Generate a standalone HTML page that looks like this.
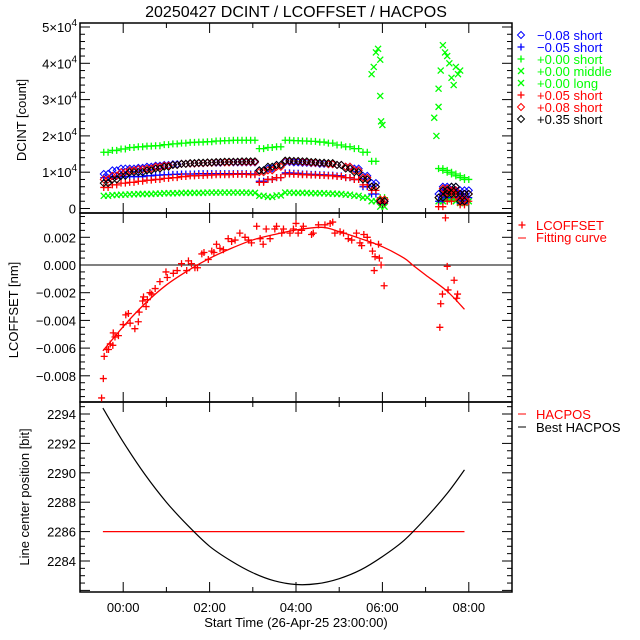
<!DOCTYPE html>
<html><head><meta charset="utf-8"><style>
html,body{margin:0;padding:0;background:#fff;}
svg{display:block;font-family:"Liberation Sans","DejaVu Sans",sans-serif;}
</style></head><body>
<svg id="chart" width="640" height="640" viewBox="0 0 640 640" xmlns="http://www.w3.org/2000/svg">
<rect width="640" height="640" fill="#fff"/>
<text x="296" y="17" font-size="16" text-anchor="middle">20250427 DCINT / LCOFFSET / HACPOS</text>
<g id="layer"></g>
</svg>
<script>
// ---- shared time grid for panel 1 (hours from 00:00) ----
const times1 = [-0.45,-0.25,-0.05,0.15,0.35,0.55,0.75,0.95,1.15,1.35,1.55,1.75,1.95,2.15,2.35,2.55,2.75,2.95,3.15,3.35,3.55,3.75,3.95,4.15,4.35,4.55,4.75,4.95,5.15,5.35,5.55,5.75,5.95,7.3,7.4,7.5,7.6,7.7,7.8,7.9];
// values in thousands of counts
const blueDiamond = [9.5,10.5,11,11,11.2,11.5,11.8,12,12.2,12.3,12.4,12.5,12.6,12.6,12.7,12.7,12.7,12.7,10.5,11,12,12.8,12.7,12.6,12.5,12.3,12.2,12,11.5,11,9,7,2,4,6,5,6,5,3,5];
const bluePlus = [8.5,8.8,8.8,8.8,8.8,9,9.2,9.3,9.4,9.5,9.5,9.6,9.6,9.6,9.6,9.6,9.6,9.5,7.5,8,8.5,9.8,9.7,9.5,9.4,9.3,9.2,9,8.5,8,6,4,1.5,2,5,3,5,4,1.5,3];
const greenShort = [15.5,16,16.4,16.8,17,17.2,17.3,17.6,17.8,18,18.2,18.3,18.4,18.6,18.7,18.8,18.8,18.8,16.5,16.8,17,18.8,18.7,18.6,18.5,18.3,18,17.5,17,16.5,15.5,13,3,11,10.5,10,9.5,9,8.5,8];
const greenLong = [3.5,3.7,3.8,3.9,4,4,4.1,4.2,4.2,4.3,4.3,4.3,4.4,4.4,4.4,4.4,4.4,4.3,3.5,3.2,3.6,4.4,4.3,4.3,4.2,4.2,4.1,4,3.8,3.5,3,2,0.5,2,3,2.5,3,2,1.5,2];
const redPlus = [5.8,6.5,7,7.2,7.5,7.8,8,8.3,8.5,8.8,9,9.1,9.2,9.3,9.3,9.4,9.4,9.3,7.2,8,8.5,9.5,9.4,9.3,9.2,9.1,9,8.8,8.5,8,6.5,5,1.5,0.5,4,2,4.5,3,1,2];
const redDiamond = [8,9,10,10.5,10.8,11,11.5,11.8,12,12.3,12.4,12.5,12.6,12.7,12.7,12.8,12.8,12.8,10,10.5,11.5,13,13,12.8,12.6,12.5,12.2,12,11.5,10.5,8.5,6,2.5,3,5.5,4.5,5,4,2.5,4];
const blackDiamond = [7,8,9,10,10,10.5,11,11.5,12,12.3,12.5,12.6,12.7,12.8,12.9,12.9,13,13,10.5,11.5,12,13.2,13.1,13,12.8,12.6,12.5,12,11,10,8,6,2,3,5,4,6,4,2,4];
const middleTimes = [5.75,5.8,5.85,5.9,5.95,5.95,5.97,6.0,7.2,7.25,7.3,7.3,7.35,7.4,7.45,7.5,7.55,7.6,7.65,7.7,7.75,7.8];
const middleValues = [37,39,43,44,41,31,24,23,25,20,28,33,38,45,43,42,40,36,34,39,37,38];
// ---- panel 2 ----
const lcTimes = [-0.50,-0.46,-0.44,-0.38,-0.34,-0.30,-0.24,-0.23,-0.19,-0.11,0.00,0.06,0.12,0.16,0.27,0.35,0.37,0.45,0.47,0.53,0.56,0.62,0.66,0.74,0.85,0.99,1.02,1.16,1.25,1.35,1.47,1.51,1.58,1.66,1.72,1.82,1.87,1.97,2.05,2.10,2.16,2.24,2.32,2.43,2.51,2.59,2.70,2.82,2.90,2.97,3.09,3.17,3.24,3.31,3.40,3.51,3.55,3.67,3.71,3.86,3.94,4.00,4.05,4.13,4.17,4.36,4.40,4.52,4.67,4.79,4.85,4.90,5.02,5.10,5.21,5.29,5.40,5.48,5.52,5.57,5.65,5.73,5.77,5.83,5.81,5.91,5.93,5.97,6.04,7.33,7.35,7.39,7.46,7.50,7.52,7.66,7.72,7.74];
const lcValues = [-0.0096,-0.0082,-0.0066,-0.0061,-0.0061,-0.0057,-0.0058,-0.0049,-0.0052,-0.0051,-0.0043,-0.0036,-0.0035,-0.0042,-0.0046,-0.0041,-0.0034,-0.0026,-0.0023,-0.0030,-0.0025,-0.0020,-0.0021,-0.0017,-0.0012,-0.0005,-0.0009,-0.0006,-0.0004,0.0001,-0.0004,0.0003,0.0001,-0.0002,-0.0002,0.0008,0.0009,0.0004,0.0010,0.0009,0.0015,0.0012,0.0011,0.0019,0.0017,0.0018,0.0023,0.0020,0.0018,0.0016,0.0028,0.0019,0.0015,0.0026,0.0019,0.0026,0.0028,0.0023,0.0026,0.0023,0.0026,0.0030,0.0023,0.0025,0.0028,0.0022,0.0023,0.0029,0.0029,0.0030,0.0031,0.0023,0.0024,0.0023,0.0019,0.0018,0.0023,0.0016,0.0014,0.0022,0.0020,0.0016,0.0010,0.0006,-0.0004,0.0015,0.0005,0.0,-0.0015,-0.0045,-0.0028,-0.0021,0.0034,-0.0001,-0.0018,-0.0011,-0.0024,-0.0021];
const fitTimes = [-0.47,0,0.5,1,1.5,2,2.5,3,3.5,4,4.6,5,5.5,6,6.5,6.7,7,7.5,7.9];
const fitValues = [-0.0062,-0.00445,-0.0028,-0.00144,-0.0004,0.00048,0.0012,0.00181,0.0022,0.00253,0.00272,0.00241,0.0019,0.00132,0.0005,0.0,-0.00072,-0.0019,-0.0032];
// ---- panel 3 ----
const hacTimes = [-0.47,0,0.5,1,1.5,2,2.5,3,3.5,4,4.5,5,5.5,6,6.5,7,7.5,7.9];
const bestHacpos = [2294.4,2292.1,2289.9,2288.0,2286.4,2285.0,2284.0,2283.2,2282.65,2282.4,2282.46,2282.8,2283.4,2284.3,2285.4,2286.9,2288.6,2290.2];
const hacposTimes = [-0.47,7.9];
const hacposValues = [2286,2286];
const xTickLabels = ["00:00","02:00","04:00","06:00","08:00"];
const p1TickLabels = ["0","1","2","3","4","5"];
const p2TickLabels = ["−0.008","−0.006","−0.004","−0.002","0.000","0.002"];
const p3TickLabels = ["2284","2286","2288","2290","2292","2294"];

const NS="http://www.w3.org/2000/svg";
const layer=document.getElementById('layer');
const L=80,R=512;
const X=t=>L+(t+1)*43.2;
const Y1=v=>208.5-v*3.63;
const Y2=v=>265-v*13850;
const Y3=v=>414+(2294-v)*14.7;
const panels=[{top:23,bot:213},{top:213,bot:402},{top:402,bot:592}];
function mk(tag,attrs,parent){const e=document.createElementNS(NS,tag);for(const k in attrs)e.setAttribute(k,attrs[k]);(parent||layer).appendChild(e);return e;}
function txt(s,x,y,attrs,parent){const e=mk('text',Object.assign({x:x,y:y,'font-size':13},attrs||{}),parent);e.textContent=s;return e;}
// smooth path through points (Catmull-Rom)
function smoothPath(pts){
  let d=`M${pts[0][0]},${pts[0][1]}`;
  for(let i=0;i<pts.length-1;i++){
    const p0=pts[Math.max(0,i-1)],p1=pts[i],p2=pts[i+1],p3=pts[Math.min(pts.length-1,i+2)];
    const c1=[p1[0]+(p2[0]-p0[0])/6,p1[1]+(p2[1]-p0[1])/6];
    const c2=[p2[0]-(p3[0]-p1[0])/6,p2[1]-(p3[1]-p1[1])/6];
    d+=` C${c1[0]},${c1[1]} ${c2[0]},${c2[1]} ${p2[0]},${p2[1]}`;
  }
  return d;
}

panels.forEach((p,i)=>{
  const g=mk('g',{});
  
  
  mk('rect',{x:L,y:p.top,width:R-L,height:p.bot-p.top,fill:'none',stroke:'#000','stroke-width':1.5},g);
  for(let h=0;h<=8;h++){
    const x=X(h),len=(h%2===0)?10:5;
    mk('line',{x1:x,x2:x,y1:p.bot,y2:p.bot-len,stroke:'#000'},g);
    mk('line',{x1:x,x2:x,y1:p.top,y2:p.top+len,stroke:'#000'},g);
  }
});
function yTicks(yf,lo,hi,minor,major,g){
  for(let v=lo;v<=hi+1e-9;v+=minor){
    const y=yf(v);const isMaj=Math.abs(Math.round(v/major)*major-v)<minor*0.01;const len=isMaj?10:5;
    mk('line',{x1:L,x2:L+len,y1:y,y2:y,stroke:'#000'},g);
    mk('line',{x1:R,x2:R-len,y1:y,y2:y,stroke:'#000'},g);
  }
}
const ax1=mk('g',{});
yTicks(Y1,0,50,2,10,ax1);
p1TickLabels.forEach((s,i)=>{
  const y=Y1(i*10);
  if(s==="0"){txt("0",76,y+5,{'text-anchor':'end'},ax1);}
  else{const t=txt("",77,y+5,{'text-anchor':'end'},ax1);t.innerHTML=s+"×10<tspan dy='-6' font-size='10'>4</tspan>";}
});
txt("DCINT [count]",26,120,{'text-anchor':'middle',transform:'rotate(-90 26 120)'},ax1);
const ax2=mk('g',{});
yTicks(Y2,-0.0095,0.0035,0.0005,0.002,ax2);
p2TickLabels.forEach((s,i)=>{txt(s,76,Y2(-0.008+i*0.002)+5,{'text-anchor':'end'},ax2);});
txt("LCOFFSET [nm]",18,310,{'text-anchor':'middle',transform:'rotate(-90 18 310)'},ax2);
mk('line',{x1:L,x2:R,y1:Y2(0),y2:Y2(0),stroke:'#000'},ax2);
const ax3=mk('g',{});
yTicks(Y3,2282,2294.5,0.5,2,ax3);
p3TickLabels.forEach((s,i)=>{txt(s,76,Y3(2284+i*2)+5,{'text-anchor':'end'},ax3);});
txt("Line center position [bit]",29,497,{'text-anchor':'middle',transform:'rotate(-90 29 497)'},ax3);
const axx=mk('g',{});
xTickLabels.forEach((s,i)=>{txt(s,X(i*2),612,{'text-anchor':'middle'},axx);});
txt("Start Time (26-Apr-25 23:00:00)",296,627,{'text-anchor':'middle'},axx);

function marker(kind,x,y,c,g){
  const s=3.5;
  if(kind==='d')mk('polygon',{points:`${x},${y-s} ${x+s},${y} ${x},${y+s} ${x-s},${y}`,fill:'none',stroke:c},g);
  else if(kind==='p'){mk('path',{d:`M${x-s} ${y}H${x+s}M${x} ${y-s}V${y+s}`,stroke:c,'stroke-width':1.3,fill:'none'},g);}
  else mk('path',{d:`M${x-3} ${y-3}L${x+3} ${y+3}M${x-3} ${y+3}L${x+3} ${y-3}`,stroke:c,'stroke-width':1.3,fill:'none'},g);
}
const series1=[
 ['green-long-series',greenLong,'x','#00ff00'],
 ['green-short-series',greenShort,'p','#00ff00'],
 ['blue-plus-series',bluePlus,'p','#0000ff'],
 ['red-plus-series',redPlus,'p','#ff0000'],
 ['blue-diamond-series',blueDiamond,'d','#0000ff'],
 ['red-diamond-series',redDiamond,'d','#ff0000'],
 ['black-diamond-series',blackDiamond,'d','#000000'],
];
series1.forEach(([name,vals,kind,c])=>{
  const g=mk('g',{});
  
  
  vals.forEach((v,i)=>{const t=times1[i];marker(kind,X(t),Y1(v),c,g);marker(kind,X(t+0.1),Y1(v),c,g);});
});
const gm=mk('g',{});


middleValues.forEach((v,i)=>marker('x',X(middleTimes[i]),Y1(v),'#00ff00',gm));

const leg1=[['d','#0000ff','−0.08 short'],['p','#0000ff','−0.05 short'],['p','#00ff00','+0.00 short'],['x','#00ff00','+0.00 middle'],['x','#00ff00','+0.00 long'],['p','#ff0000','+0.05 short'],['d','#ff0000','+0.08 short'],['d','#000000','+0.35 short']];
leg1.forEach(([k,c,s],i)=>{
  const g=mk('g',{});
  
  
  const y=35+i*12;
  marker(k,521,y,c,g);
  txt(s,537,y+5,{fill:c},g);
});

const gfit=mk('g',{});


mk('path',{d:smoothPath(fitTimes.map((t,i)=>[X(t),Y2(fitValues[i])])),fill:'none',stroke:'#ff0000','stroke-width':1.3},gfit);
const glc=mk('g',{});


lcValues.forEach((v,i)=>marker('p',X(lcTimes[i]),Y2(v),'#ff0000',glc));
const leg2=mk('g',{});


marker('p',522,225,'#ff0000',leg2);txt("LCOFFSET",536,230,{fill:'#ff0000'},leg2);
mk('line',{x1:518,x2:526,y1:238,y2:238,stroke:'#ff0000'},leg2);txt("Fitting curve",536,242,{fill:'#ff0000'},leg2);

const gh=mk('g',{});


mk('polyline',{points:hacposTimes.map((t,i)=>X(t)+','+Y3(hacposValues[i])).join(' '),fill:'none',stroke:'#ff0000','stroke-width':1.3},gh);
const gb=mk('g',{});


mk('path',{d:smoothPath(hacTimes.map((t,i)=>[X(t),Y3(bestHacpos[i])])),fill:'none',stroke:'#000','stroke-width':1.2},gb);
const leg3=mk('g',{});


mk('line',{x1:518,x2:526,y1:414,y2:414,stroke:'#ff0000'},leg3);txt("HACPOS",536,419,{fill:'#ff0000'},leg3);
mk('line',{x1:518,x2:526,y1:427,y2:427,stroke:'#000'},leg3);txt("Best HACPOS",536,432,{fill:'#000'},leg3);
</script>
</body></html>
